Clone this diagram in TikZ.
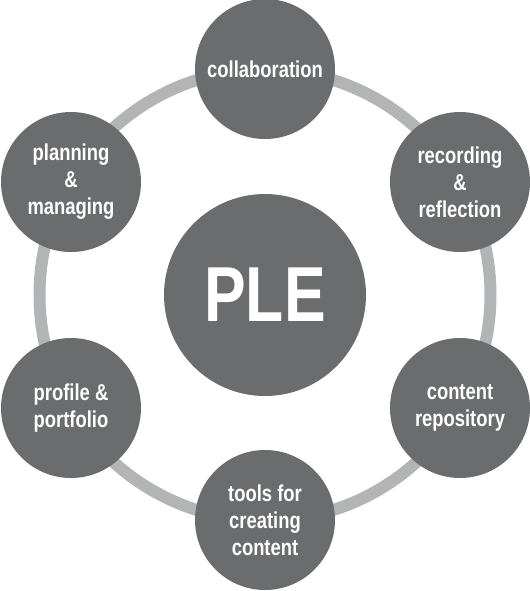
\documentclass[tikz,border=0pt]{standalone}
\usepackage{fontspec}
\setmainfont{Liberation Sans}[FakeStretch=0.8]
\definecolor{discgray}{HTML}{6B6C6E}
\definecolor{ringgray}{HTML}{B3B4B6}
\tikzset{
  disc/.style={circle, fill=discgray, text=white, minimum size=70pt, inner sep=0pt,
    align=center, font=\bfseries\fontsize{11.5}{13.5}\selectfont},
  hub/.style={circle, fill=discgray, text=white, minimum size=101pt, inner sep=0pt,
    font=\bfseries\fontsize{39}{39}\selectfont}
}
\begin{document}
\begin{tikzpicture}[x=0.5pt,y=-0.5pt]
    % Marco
    \useasboundingbox (0,0) rectangle (530,591);

    % Anillo gris
    \coordinate (C) at (265,295);
    \draw[ringgray, line width=6pt] (C) circle[radius=112.75pt];

    % Centro
    \node[hub] (ple) at (C) {PLE};

    % Discos exteriores
    \node[disc] (collab) at (265,69) {collaboration};
    \node[disc] (record) at (460,182) {recording\\\&\\reflection};
    \node[disc] (content) at (460,408) {content\\repository};
    \node[disc] (tools) at (265,520) {tools for\\creating\\content};
    \node[disc] (profile) at (71,408) {profile \&\\portfolio};
    \node[disc] (plan) at (71,182) {planning\\\&\\managing};
\end{tikzpicture}
\end{document}
